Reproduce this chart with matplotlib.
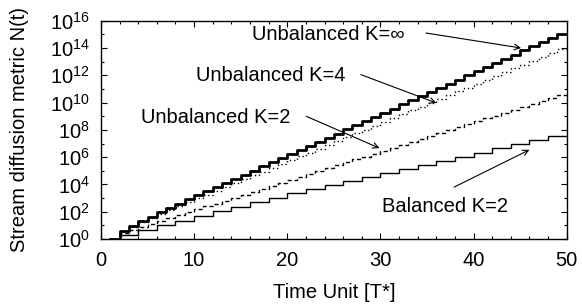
import numpy as np
import matplotlib
matplotlib.use("Agg")
import matplotlib.pyplot as plt
from matplotlib.ticker import FixedLocator, LogFormatterSciNotation, NullFormatter

plt.rcParams['font.family'] = ['Liberation Sans', 'DejaVu Sans']
plt.rcParams['mathtext.fontset'] = 'custom'
plt.rcParams['mathtext.rm'] = 'Liberation Sans'
plt.rcParams['mathtext.it'] = 'Liberation Sans:italic'

# step start times and log10 of N(t)
t_unbal = list(range(1, 50))
log_kinf = [0.00, 0.60, 0.95, 1.30, 1.63, 1.96, 2.27, 2.60, 2.90, 3.22,
            3.52, 3.82, 4.12, 4.42, 4.72, 5.02, 5.32, 5.62, 5.92, 6.22,
            6.52, 6.82, 7.12, 7.42, 7.73, 8.03, 8.34, 8.64, 8.95, 9.25,
            9.56, 9.86, 10.17, 10.47, 10.78, 11.08, 11.39, 11.69, 12.00, 12.30,
            12.61, 12.91, 13.22, 13.52, 13.83, 14.13, 14.44, 14.74, 15.05]
log_k4 = [0.00, 0.60, 0.90, 1.22, 1.52, 1.82, 2.10, 2.40, 2.68, 2.98,
          3.26, 3.54, 3.82, 4.10, 4.38, 4.66, 4.94, 5.22, 5.50, 5.78,
          6.06, 6.34, 6.62, 6.90, 7.18, 7.46, 7.74, 8.02, 8.30, 8.58,
          8.86, 9.14, 9.42, 9.70, 9.98, 10.26, 10.54, 10.82, 11.10, 11.38,
          11.66, 11.94, 12.22, 12.50, 12.78, 13.06, 13.34, 13.62, 13.90]
log_k2 = [0.00, 0.45, 0.67, 0.88, 1.10, 1.31, 1.53, 1.74, 1.96, 2.17,
          2.39, 2.60, 2.82, 3.03, 3.25, 3.46, 3.68, 3.89, 4.11, 4.32,
          4.54, 4.75, 4.97, 5.18, 5.40, 5.61, 5.83, 6.04, 6.26, 6.47,
          6.69, 6.90, 7.12, 7.33, 7.55, 7.76, 7.98, 8.19, 8.41, 8.62,
          8.84, 9.05, 9.27, 9.48, 9.70, 9.91, 10.13, 10.34, 10.56]
t_bal = [1, 2, 4, 6, 8, 10, 12, 14, 16, 18, 20, 22, 24, 26, 28, 30,
         32, 34, 36, 38, 40, 42, 44, 46, 48]
log_bal = [0.00, 0.30, 0.65, 1.00, 1.35, 1.70, 2.05, 2.37, 2.69, 3.03,
           3.35, 3.65, 3.98, 4.27, 4.58, 4.85, 5.14, 5.44, 5.73, 6.03,
           6.34, 6.65, 6.95, 7.25, 7.55]
t_end = 50

fig = plt.figure(figsize=(5.82, 3.05), dpi=100)
ax = fig.add_axes([0.1735, 0.2164, 0.8002, 0.7156])


def step_line(t, logv, **kw):
    x = np.append(t, t_end)
    y = 10.0 ** np.append(logv, logv[-1])
    ax.step(x, y, where='post', color='black', **kw)


step_line(t_unbal, log_kinf, lw=2.0)
step_line(t_unbal, log_k4, lw=1.0, linestyle=(0, (1, 2)))
step_line(t_unbal, log_k2, lw=1.0, linestyle=(0, (3, 2)))
step_line(t_bal, log_bal, lw=1.0)

ax.set_yscale('log')
ax.set_xlim(0, 50)
ax.set_ylim(1, 1e16)
ax.set_xticks(range(0, 51, 10))
ax.set_xticks(range(0, 51, 2), minor=True)
ax.yaxis.set_major_locator(FixedLocator([10.0 ** k for k in range(0, 17, 2)]))
ax.yaxis.set_minor_locator(FixedLocator([10.0 ** k for k in range(1, 17, 2)]))
ax.yaxis.set_major_formatter(LogFormatterSciNotation())
ax.yaxis.set_minor_formatter(NullFormatter())
ax.tick_params(which='both', direction='in', top=True, right=True, labelsize=14.5, width=0.8)
ax.tick_params(which='major', length=4)
ax.tick_params(which='minor', length=2)
ax.tick_params(axis='x', pad=9)
ax.tick_params(axis='y', pad=8)
for s in ax.spines.values():
    s.set_linewidth(1.0)

ax.set_xlabel('Time Unit [T*]', fontsize=14.5, labelpad=9)
ax.set_ylabel('Stream diffusion metric N(t)', fontsize=14.5, labelpad=15)

arrow = dict(arrowstyle='->', color='black', lw=0.8, shrinkA=0, shrinkB=0)
fs = 14.5
ax.annotate('', xy=(45.1, 10 ** 14.0), xytext=(34.9, 10 ** 15.1), arrowprops=arrow)
ax.text(24.4, 10 ** 15.0, 'Unbalanced K=\u221e', fontsize=fs, ha='center', va='center')
ax.annotate('', xy=(36.0, 10 ** 9.97), xytext=(27.9, 10 ** 12.05), arrowprops=arrow)
ax.text(18.2, 10 ** 11.98, 'Unbalanced K=4', fontsize=fs, ha='center', va='center')
ax.annotate('', xy=(29.9, 10 ** 6.66), xytext=(22.05, 10 ** 8.99), arrowprops=arrow)
ax.text(12.3, 10 ** 8.94, 'Unbalanced K=2', fontsize=fs, ha='center', va='center')
ax.annotate('', xy=(46.0, 10 ** 6.54), xytext=(37.9, 10 ** 3.8), arrowprops=arrow)
ax.text(36.9, 10 ** 2.37, 'Balanced K=2', fontsize=fs, ha='center', va='center')

fig.savefig('out.png', dpi=100)
